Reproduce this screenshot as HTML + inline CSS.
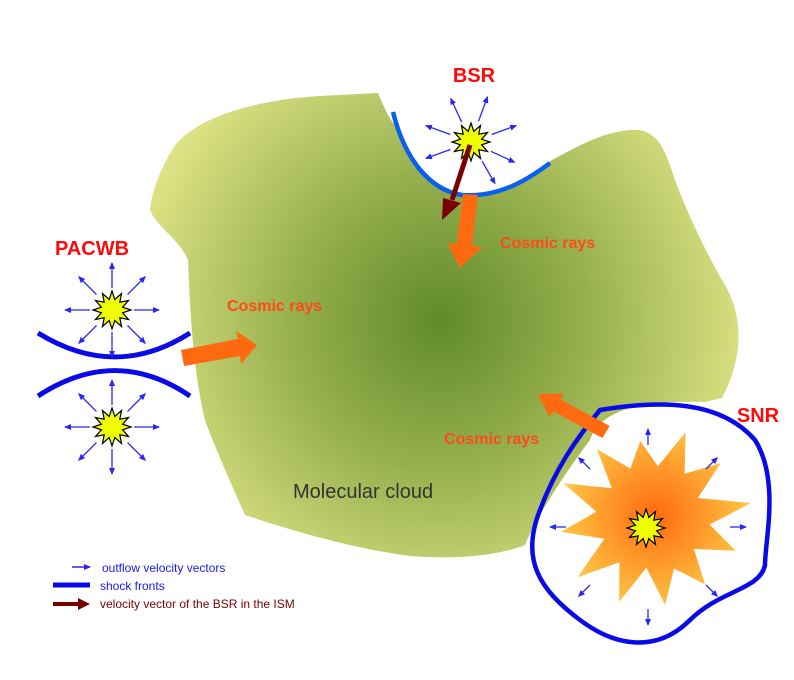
<!DOCTYPE html>
<html><head><meta charset="utf-8"><style>
html,body{margin:0;padding:0;background:#fff}
svg{display:block}
text{font-family:"Liberation Sans",sans-serif}
</style></head><body>
<svg id="s" width="794" height="680" viewBox="0 0 794 680" xmlns="http://www.w3.org/2000/svg">
<defs>
<radialGradient id="cg" cx="440" cy="320" r="330" gradientUnits="userSpaceOnUse">
<stop offset="0" stop-color="#5f8a2a"/>
<stop offset="0.45" stop-color="#97b04e"/>
<stop offset="1" stop-color="#e4e88a"/>
</radialGradient>
<radialGradient id="sg" cx="655" cy="515" r="105" gradientUnits="userSpaceOnUse">
<stop offset="0" stop-color="#ff6a10"/>
<stop offset="1" stop-color="#ffd04a"/>
</radialGradient>
<marker id="ab" markerWidth="7" markerHeight="6" refX="6" refY="3" orient="auto" markerUnits="userSpaceOnUse"><path d="M0,0 L7,3 L0,6 Z" fill="#2828ee"/></marker>
</defs>
<path d="M172,150 C190,120 250,100 320,96 L378,93 C385,110 390,120 395,125 C410,160 430,190 460,195 C500,198 530,175 552,160 C580,145 610,128 640,130 C660,135 665,150 675,180 C690,220 710,260 725,285 C745,320 742,360 722,398 L705,402 C640,400 600,410 590,440 C560,480 535,520 525,545 C500,555 460,560 410,556 C350,548 290,530 245,515 C225,470 212,440 205,420 C195,380 190,320 188,260 C180,240 155,225 150,210 C152,190 160,170 172,150 Z" fill="url(#cg)"/>
<path d="M393,112 C405,160 430,190 462,195 C500,198 530,178 550,163" fill="none" stroke="#0a5ef0" stroke-width="4.5"/>
<path d="M38,333 C90,365 140,365 190,333" fill="none" stroke="#0a0ae8" stroke-width="5"/>
<path d="M38,396 C90,362 140,362 190,396" fill="none" stroke="#0a0ae8" stroke-width="5"/>
<path d="M600,410 C660,400 720,400 755,440 C780,480 765,540 765,565 C760,590 720,590 690,620 C660,650 620,650 580,620 C540,590 520,560 540,510 C555,470 575,440 600,410 Z" fill="none" stroke="#0a0ae8" stroke-width="4.5"/>
<g id="dyn"></g>
<polygon points="181,350 238,339 236,331 257,345 241,364 240,356 184,366" fill="#ff6a10"/>
<polygon points="463,194 478,195 472,245 482,247 460,268 447,243 457,244" fill="#ff6a10"/>
<polygon points="609.6,426 560.4,399.4 564.1,393.4 538,394 549.5,417.4 553.2,411.4 602.4,438" fill="#ff6a10"/>
<line x1="470" y1="145" x2="452" y2="200" stroke="#7a0000" stroke-width="5"/>
<polygon points="443,198 461,203 442,220" fill="#7a0000"/>
<text x="474" y="82" font-size="20" font-weight="bold" fill="#ff0a0a" text-anchor="middle">BSR</text>
<text x="92" y="255" font-size="20" font-weight="bold" fill="#ff0a0a" text-anchor="middle">PACWB</text>
<text x="758" y="422" font-size="20" font-weight="bold" fill="#ff0a0a" text-anchor="middle">SNR</text>
<text x="227" y="311" font-size="16" font-weight="bold" fill="#ff4a1a">Cosmic rays</text>
<text x="500" y="248" font-size="16" font-weight="bold" fill="#ff4a1a">Cosmic rays</text>
<text x="444" y="444" font-size="16" font-weight="bold" fill="#ff4a1a">Cosmic rays</text>
<text x="293" y="498" font-size="20" fill="#333">Molecular cloud</text>
<line x1="72" y1="567" x2="90" y2="567" stroke="#2828ee" stroke-width="1.5" marker-end="url(#ab)"/>
<text x="102" y="572" font-size="12" fill="#1a1aee">outflow velocity vectors</text>
<line x1="53" y1="585" x2="90" y2="585" stroke="#0a0ae8" stroke-width="5"/>
<text x="100" y="590" font-size="12" fill="#1a1aee">shock fronts</text>
<line x1="53" y1="604" x2="80" y2="604" stroke="#7a0000" stroke-width="4"/>
<polygon points="78,598 90,604 78,610" fill="#7a0000"/>
<text x="100" y="608" font-size="12" fill="#7a0000">velocity vector of the BSR in the ISM</text>
</svg>
<script>
var g=document.getElementById('dyn'),NS="http://www.w3.org/2000/svg";
function star(cx,cy,R,r,n,fill,stroke){var p=[];for(var i=0;i<2*n;i++){var a=Math.PI*i/n-Math.PI/2,rr=i%2?r:R;p.push((cx+rr*Math.cos(a)).toFixed(1)+","+(cy+rr*Math.sin(a)).toFixed(1));}
var e=document.createElementNS(NS,'polygon');e.setAttribute('points',p.join(' '));e.setAttribute('fill',fill);if(stroke){e.setAttribute('stroke',stroke);e.setAttribute('stroke-width','1.2');}g.appendChild(e);return e;}
function arrows(cx,cy,r1,r2,angles){angles.forEach(function(d){var a=d*Math.PI/180;var l=document.createElementNS(NS,'line');
l.setAttribute('x1',cx+r1*Math.cos(a));l.setAttribute('y1',cy+r1*Math.sin(a));l.setAttribute('x2',cx+r2*Math.cos(a));l.setAttribute('y2',cy+r2*Math.sin(a));
l.setAttribute('stroke','#2828ee');l.setAttribute('stroke-width','1.3');l.setAttribute('marker-end','url(#ab)');g.appendChild(l);});}
// SNR explosion
(function(){var cx=652,cy=518,n=12,p=[];var Rs=[78,92,88,100,90,85,88,90,95,92,95,88];var rs=[52,55,50,58,52,55,50,55,52,56,50,54];
for(var i=0;i<2*n;i++){var a=Math.PI*i/n-Math.PI/2-0.15,rr=i%2?rs[i>>1]:Rs[i>>1];p.push((cx+rr*Math.cos(a)).toFixed(1)+","+(cy+rr*Math.sin(a)).toFixed(1));}
var e=document.createElementNS(NS,'polygon');e.setAttribute('points',p.join(' '));e.setAttribute('fill','url(#sg)');g.appendChild(e);})();
var A8=[0,45,90,135,180,225,270,315];
star(646,528,19,11,12,'#eeff00','#000');
arrows(648,527,82,98,A8);
star(112,310,19,11,12,'#eeff00','#000');arrows(112,310,22,47,A8);
star(112,427,19,11,12,'#eeff00','#000');arrows(112,427,22,47,A8);
star(471,142,19,11,12,'#eeff00','#000');arrows(471,142,22,48,[-20,25,60,160,200,245,290]);
</script>
</body></html>
